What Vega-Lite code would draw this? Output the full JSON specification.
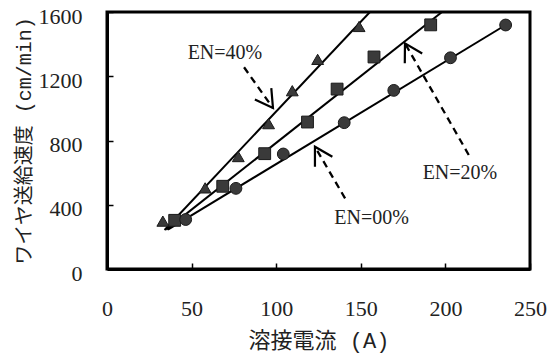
{
  "$schema": "https://vega.github.io/schema/vega-lite/v6.json",
  "width": 423,
  "height": 257,
  "autosize": {"type": "none"},
  "padding": {"left": 107, "top": 12, "right": 18, "bottom": 91},
  "background": "white",
  "config": {"view": {"stroke": "black", "strokeWidth": 3}},
  "datasets": {
    "pts": [
      {"series": "40%", "x": 33, "y": 298},
      {"series": "40%", "x": 58, "y": 505},
      {"series": "40%", "x": 77.6, "y": 700},
      {"series": "40%", "x": 95.5, "y": 905},
      {"series": "40%", "x": 109.5, "y": 1110},
      {"series": "40%", "x": 124.5, "y": 1305},
      {"series": "40%", "x": 149, "y": 1510},
      {"series": "20%", "x": 40, "y": 303},
      {"series": "20%", "x": 68.4, "y": 515},
      {"series": "20%", "x": 93.2, "y": 718},
      {"series": "20%", "x": 118.5, "y": 915},
      {"series": "20%", "x": 136, "y": 1120},
      {"series": "20%", "x": 157.8, "y": 1320},
      {"series": "20%", "x": 191.3, "y": 1520},
      {"series": "00%", "x": 46.5, "y": 308},
      {"series": "00%", "x": 76.2, "y": 502},
      {"series": "00%", "x": 104.2, "y": 716},
      {"series": "00%", "x": 140.2, "y": 911},
      {"series": "00%", "x": 169.5, "y": 1112},
      {"series": "00%", "x": 203, "y": 1315},
      {"series": "00%", "x": 235.6, "y": 1519}
    ],
    "fits": [
      {"series": "40%", "x": 34, "y": 243},
      {"series": "40%", "x": 155.4, "y": 1600},
      {"series": "20%", "x": 35, "y": 245},
      {"series": "20%", "x": 198, "y": 1600},
      {"series": "00%", "x": 36, "y": 245},
      {"series": "00%", "x": 235.6, "y": 1519}
    ],
    "dashes": [
      {"id": "40%", "o": 0, "x": 81, "y": 1256},
      {"id": "40%", "o": 1, "x": 98.1, "y": 1002},
      {"id": "00%", "o": 0, "x": 140.7, "y": 440},
      {"id": "00%", "o": 1, "x": 122.9, "y": 761},
      {"id": "20%", "o": 0, "x": 213.8, "y": 710},
      {"id": "20%", "o": 1, "x": 176.1, "y": 1405}
    ],
    "heads": [
      {"id": "40%", "o": 0, "x": 97.1, "y": 1126},
      {"id": "40%", "o": 1, "x": 98.1, "y": 1002},
      {"id": "40%", "o": 2, "x": 87.4, "y": 1055},
      {"id": "00%", "o": 0, "x": 122.9, "y": 637},
      {"id": "00%", "o": 1, "x": 122.9, "y": 761},
      {"id": "00%", "o": 2, "x": 133.2, "y": 699},
      {"id": "20%", "o": 0, "x": 176, "y": 1281},
      {"id": "20%", "o": 1, "x": 176.1, "y": 1405},
      {"id": "20%", "o": 2, "x": 186.3, "y": 1342}
    ],
    "labels": [
      {"label": "EN=40%", "x": 69.7, "y": 1345},
      {"label": "EN=00%", "x": 156.4, "y": 316},
      {"label": "EN=20%", "x": 208.6, "y": 596}
    ]
  },
  "encoding": {
    "x": {
      "field": "x",
      "type": "quantitative",
      "scale": {"domain": [0, 250], "nice": false, "zero": false},
      "axis": {
        "title": "溶接電流 (A)",
        "values": [0, 50, 100, 150, 200, 250],
        "format": "d",
        "grid": false,
        "tickSize": -6,
        "tickWidth": 1.5,
        "tickColor": "black",
        "domainColor": "black",
        "domainWidth": 3,
        "labelFont": "Liberation Serif",
        "labelFontSize": 22,
        "labelColor": "#222",
        "labelPadding": 35,
        "labelFlush": false,
        "labelOverlap": false,
        "titleFont": "Liberation Mono, Noto Sans CJK JP",
        "titleFontSize": 22,
        "titleFontWeight": "normal",
        "titleColor": "#222",
        "titlePadding": 11
      }
    },
    "y": {
      "field": "y",
      "type": "quantitative",
      "scale": {"domain": [0, 1600], "nice": false, "zero": false},
      "axis": {
        "title": "ワイヤ送給速度 (cm/min)",
        "values": [0, 400, 800, 1200, 1600],
        "format": "d",
        "grid": false,
        "tickSize": -6,
        "tickWidth": 1.5,
        "tickColor": "black",
        "domainColor": "black",
        "domainWidth": 3,
        "labelFont": "Liberation Serif",
        "labelFontSize": 22,
        "labelColor": "#222",
        "labelPadding": 31,
        "labelOffset": 4,
        "labelFlush": false,
        "labelOverlap": false,
        "titleFont": "Liberation Mono, Noto Sans CJK JP",
        "titleFontSize": 20,
        "titleFontWeight": "normal",
        "titleColor": "#222",
        "titlePadding": 4
      }
    }
  },
  "layer": [
    {
      "data": {"name": "fits"},
      "mark": {"type": "line", "color": "black", "strokeWidth": 2, "clip": true},
      "encoding": {"detail": {"field": "series"}}
    },
    {
      "data": {"name": "pts"},
      "mark": {"type": "point", "filled": true, "size": 140, "opacity": 1, "stroke": "#1a1a1a", "strokeWidth": 1},
      "encoding": {
        "shape": {
          "field": "series",
          "type": "nominal",
          "scale": {"domain": ["40%", "20%", "00%"], "range": ["triangle-up", "square", "circle"]},
          "legend": null
        },
        "color": {"value": "#3a3a3a"}
      }
    },
    {
      "data": {"name": "dashes"},
      "mark": {"type": "line", "color": "black", "strokeWidth": 2.3, "strokeDash": [7, 5]},
      "encoding": {"detail": {"field": "id"}, "order": {"field": "o"}}
    },
    {
      "data": {"name": "heads"},
      "mark": {"type": "line", "color": "black", "strokeWidth": 2.2},
      "encoding": {"detail": {"field": "id"}, "order": {"field": "o"}}
    },
    {
      "data": {"name": "labels"},
      "mark": {"type": "text", "font": "Liberation Serif", "fontSize": 20, "color": "#222"},
      "encoding": {"text": {"field": "label"}}
    }
  ]
}
